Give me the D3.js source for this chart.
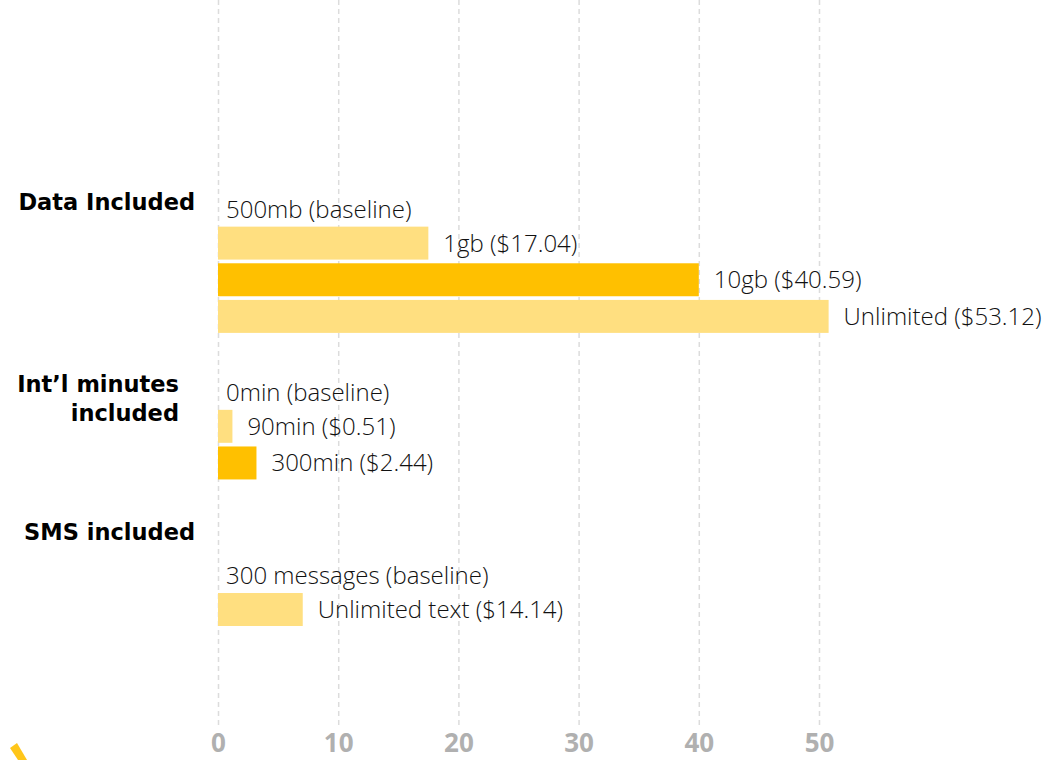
<!DOCTYPE html>
<html>
<head>
<meta charset="utf-8">
<script src="https://cdn.jsdelivr.net/npm/d3@7"></script>
<style>
  body { margin: 0; background: #fff; }
  svg { display: block; }
</style>
</head>
<body>
<div id="chart"></div>
<script>
// Rows, top to bottom (empty strings are spacer rows)
const rowLabels = [
    "500mb (baseline)", "1gb ($17.04)", "10gb ($40.59)", "Unlimited ($53.12)",
    "",
    "0min (baseline)", "90min ($0.51)", "300min ($2.44)",
    "", "",
    "300 messages (baseline)", "Unlimited text ($14.14)"
];
// Bar lengths
const rowValues = [0, 17.5, 40, 50.8, null, 0, 1.2, 3.2, null, null, 0, 7.05];
const highlighted = ["10gb ($40.59)", "300min ($2.44)"];

const groupNames = [["Data Included"], ["Int’l minutes", "included"], ["SMS included"]];
const groupRows = [0, 5, 9];

const tickValues = [0, 10, 20, 30, 40, 50];

const width = 1054, height = 760;

const svg = d3.select("#chart")
    .append("svg")
    .attr("width", width)
    .attr("height", height);

const x = d3.scaleLinear()
    .domain([0, 50])
    .range([218, 819]);

const y = d3.scaleBand()
    .domain(d3.range(rowLabels.length))
    .range([190, 626])
    .paddingInner(0.1);

// dashed gridlines
svg.append("g")
    .call(d3.axisBottom(x).tickValues(tickValues).tickSize(725).tickFormat(""))
    .call(g => g.select(".domain").remove())
    .selectAll("line")
    .attr("stroke", "#dcdcdc")
    .attr("stroke-width", 1.5)
    .attr("stroke-dasharray", "5,4");

// x axis labels (kept just inside the bottom edge)
svg.append("g")
    .attr("transform", "translate(0,734)")
    .call(d3.axisBottom(x).tickValues(tickValues).tickSize(0).tickPadding(0))
    .call(g => g.select(".domain").remove())
    .selectAll("text")
    .attr("y", 18)
    .attr("dy", null)
    .attr("fill", "#b0b0b0")
    .style("font-family", "'Open Sans', sans-serif")
    .style("font-weight", 700)
    .style("font-size", "26px");

const data = rowLabels.map((label, i) => ({ i, label, value: rowValues[i] }))
    .filter(d => d.value !== null);

// bars
svg.selectAll("rect.bar")
    .data(data.filter(d => d.value > 0))
    .enter()
    .append("rect")
    .attr("class", "bar")
    .attr("x", x(0))
    .attr("y", d => y(d.i))
    .attr("width", d => x(d.value) - x(0))
    .attr("height", y.bandwidth())
    .attr("fill", d => highlighted.includes(d.label) ? "#ffc000" : "#ffdf80");

// bar labels
svg.selectAll("text.lbl")
    .data(data)
    .enter()
    .append("text")
    .attr("class", "lbl")
    .attr("x", d => d.value > 0 ? x(d.value) + 15 : x(0) + 8)
    .attr("y", d => y(d.i) + y.bandwidth() / 2 + (d.value > 0 ? 0 : 3))
    .attr("dy", "0.35em")
    .attr("fill", "#111")
    .style("font-family", "'Open Sans', sans-serif")
    .style("font-weight", 300)
    .style("font-size", "24px")
    .text(d => d.label);

// group headers
groupNames.forEach((lines, k) => {
    const right = lines.length > 1 ? 179 : 195;
    const t = svg.append("text")
        .attr("text-anchor", "end")
        .attr("x", right)
        .attr("y", y(groupRows[k]) + y.bandwidth() / 2 - 4 - (lines.length > 1 ? 2 : 0))
        .attr("fill", "#000")
        .style("font-family", "'DejaVu Sans', sans-serif")
        .style("font-weight", 700)
        .style("font-size", "22.5px");
    lines.forEach((line, j) => {
        t.append("tspan")
            .attr("x", right)
            .attr("dy", j === 0 ? "0.35em" : "1.33em")
            .text(line);
    });
});

// corner logo fragment
svg.append("path")
    .attr("d", "M10,748 L17,743 L27,760 L18,760 Z")
    .attr("fill", "#ffc61a");
</script>
</body>
</html>
